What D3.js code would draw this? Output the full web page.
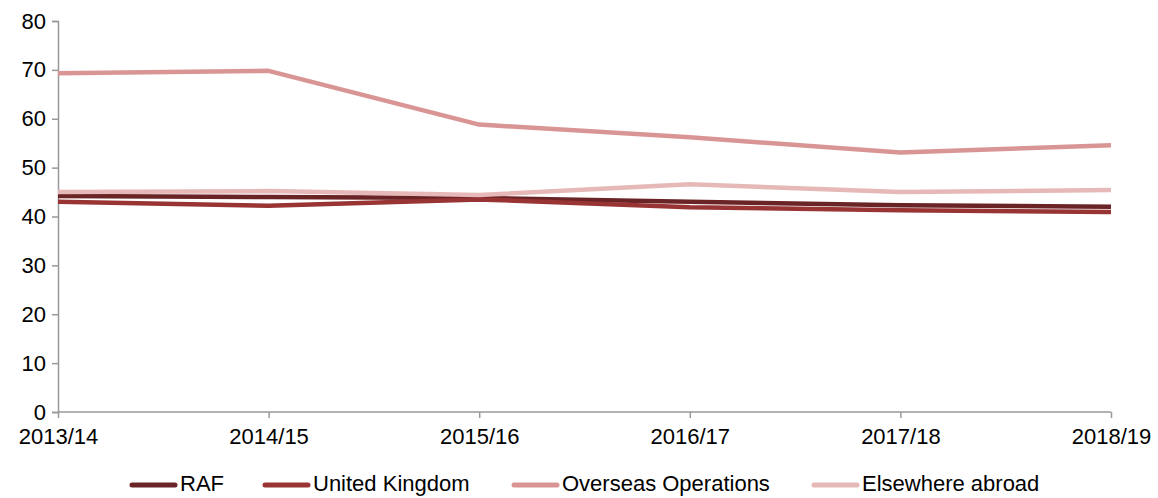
<!DOCTYPE html>
<html>
<head>
<meta charset="utf-8">
<script src="https://cdn.jsdelivr.net/npm/d3@7"></script>
<style>
body { margin: 0; background: #fff; }
text { font-family: "Liberation Sans", Arial, sans-serif; fill: #000; }
</style>
</head>
<body>
<script>
let years = ["2013/14","2014/15","2015/16","2016/17","2017/18","2018/19"];
let raf = [44.2, 44.0, 43.8, 43.0, 42.3, 42.0];
let uk = [43.0, 42.2, 43.5, 41.9, 41.3, 40.9];
let overseas = [69.3, 69.8, 58.8, 56.2, 53.1, 54.6];
let elsewhere = [45.0, 45.2, 44.4, 46.6, 45.0, 45.4];
let yTicks = [0,10,20,30,40,50,60,70,80];

let series = [
  {name:"RAF", values:raf, color:"#6b2426"},
  {name:"United Kingdom", values:uk, color:"#993434"},
  {name:"Overseas Operations", values:overseas, color:"#d99594"},
  {name:"Elsewhere abroad", values:elsewhere, color:"#e6b9b8"}
];

let width = 1158, height = 498;
let margin = {left:58, right:47, top:21, bottom:86};

let svg = d3.select("body").append("svg").attr("width",width).attr("height",height)

let x = d3.scalePoint().domain(years).range([margin.left, width-margin.right])
let y = d3.scaleLinear().domain([0,80]).range([height-margin.bottom, margin.top])

// axes
let yAxis = svg.append("g").attr("transform","translate("+margin.left+",0)")
  .call(d3.axisLeft(y).tickValues(yTicks).tickSize(6).tickPadding(6))
let xAxis = svg.append("g").attr("transform","translate(0,"+(height-margin.bottom)+")")
  .call(d3.axisBottom(x).tickSize(6).tickPadding(10))

svg.selectAll(".domain, .tick line").attr("stroke","#999").attr("stroke-width",1.5)
svg.selectAll(".tick text").style("font-size","22px").attr("fill","#000")
xAxis.selectAll(".domain").attr("d","M"+margin.left+",0H"+(width-margin.right))

let line = d3.line().x((d,i)=>x(years[i])).y(d=>y(d))

svg.selectAll(".series")
  .data(series)
  .enter().append("path")
    .attr("class","series")
    .attr("d",d=>line(d.values))
    .attr("fill","none")
    .attr("stroke",d=>d.color)
    .attr("stroke-width",4.5)
    .attr("stroke-linejoin","round")

// legend
let legendX = [132, 265, 514, 814];
let legend = svg.selectAll(".legend")
  .data(series)
  .enter().append("g")
    .attr("class","legend")
    .attr("transform",(d,i)=>"translate("+legendX[i]+",485)")
legend.append("line")
  .attr("x1",0).attr("x2",43).attr("y1",0).attr("y2",0)
  .attr("stroke",d=>d.color).attr("stroke-width",5).attr("stroke-linecap","round")
legend.append("text")
  .attr("x",48).attr("y",0)
  .attr("dominant-baseline","middle")
  .style("font-size","22px")
  .text(d=>d.name)
</script>
</body>
</html>
